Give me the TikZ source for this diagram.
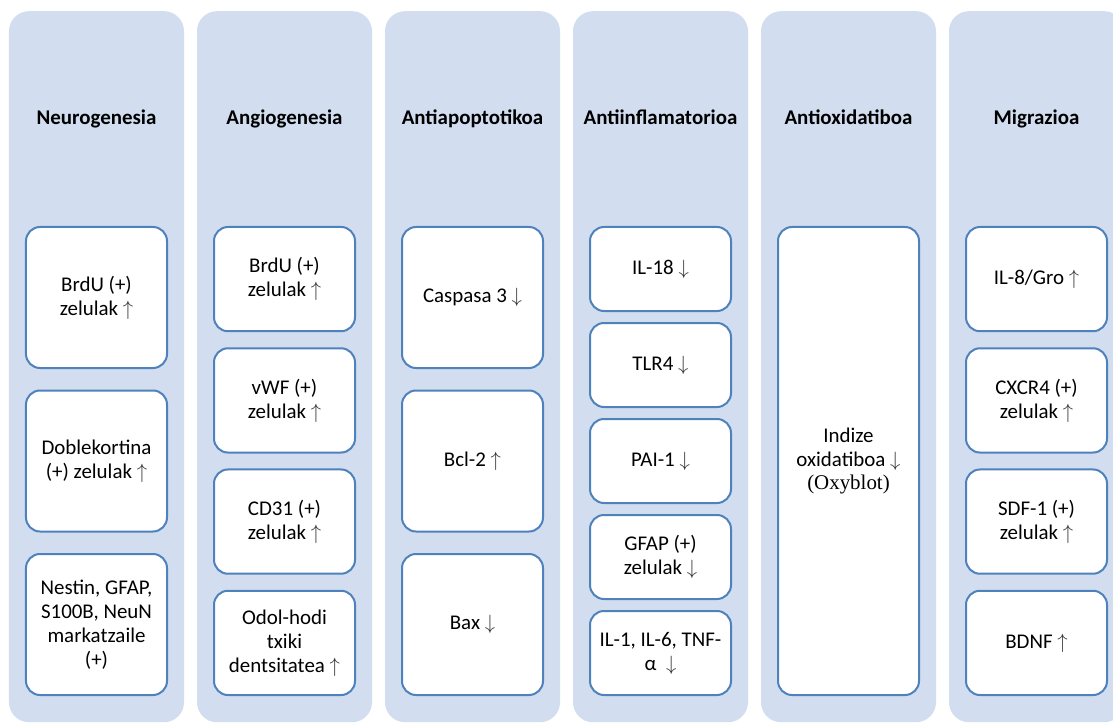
\documentclass[tikz,border=0pt]{standalone}
\usepackage{fontspec}
\setmainfont{Carlito}
\newfontfamily\oxyfont{Liberation Serif}
\definecolor{colfill}{RGB}{210,222,239}
\definecolor{boxline}{RGB}{79,129,189}
\newcommand{\upar}{\textcolor{black!80}{$\uparrow$}}
\newcommand{\dnar}{\textcolor{black!80}{$\downarrow$}}

\tikzset{
  column/.style={fill=colfill, rounded corners=20bp, minimum width=175bp, minimum height=711bp, inner sep=0pt, anchor=north},
  header/.style={anchor=base, font=\fontsize{21}{24}\selectfont\bfseries},
  item/.style={draw=boxline, line width=2bp, fill=white, rounded corners=14bp, minimum width=141bp, inner sep=2bp, align=center, font=\fontsize{21}{24}\selectfont}
}

\begin{document}
\begin{tikzpicture}[x=1bp,y=-1bp]
\clip (0,0) rectangle (1113,723);
\fill[white] (0,0) rectangle (1113,723);
% columns
\node[column] (neurocol) at (96.5,11) {};
\node[column] (angiocol) at (284.5,11) {};
\node[column] (apopcol) at (472.5,11) {};
\node[column] (inflcol) at (660.5,11) {};
\node[column] (oxidcol) at (848.5,11) {};
\node[column] (migrcol) at (1036.5,11) {};
% headers
\node[header] (neurohead) at (96.5,125) {Neurogenesia};
\node[header] (angiohead) at (284.5,125) {Angiogenesia};
\node[header] (apophead) at (472.5,125) {Antiapoptotikoa};
\node[header] (inflhead) at (660.5,125) {Antiinflamatorioa};
\node[header] (oxidhead) at (848.5,125) {Antioxidatiboa};
\node[header] (migrhead) at (1036.5,125) {Migrazioa};
% neurogenesia
\node[item, minimum height=141bp] (brdu) at (96.5,297.5) {BrdU (+)\\zelulak \upar};
\node[item, minimum height=141bp] (doble) at (96.5,461) {Doblekortina\\(+) zelulak \upar};
\node[item, minimum height=141bp] (nestin) at (96.5,624.5) {Nestin, GFAP,\\S100B, NeuN\\markatzaile\\(+)};
% angiogenesia
\node[item, minimum height=104.25bp] (brduang) at (284.5,279.1) {BrdU (+)\\zelulak \upar};
\node[item, minimum height=104.25bp] (vwf) at (284.5,400.4) {vWF (+)\\zelulak \upar};
\node[item, minimum height=104.25bp] (cd31) at (284.5,521.6) {CD31 (+)\\zelulak \upar};
\node[item, minimum height=104.25bp] (odol) at (284.5,642.9) {Odol-hodi\\txiki\\dentsitatea \upar};
% antiapoptotikoa
\node[item, minimum height=141bp] (caspasa) at (472.5,297.5) {Caspasa 3 \dnar};
\node[item, minimum height=141bp] (bcl) at (472.5,461) {Bcl-2 \upar};
\node[item, minimum height=141bp] (bax) at (472.5,624.5) {Bax \dnar};
% antiinflamatorioa
\node[item, minimum height=84bp] (il18) at (660.5,269) {IL-18 \dnar};
\node[item, minimum height=84bp] (tlr4) at (660.5,365) {TLR4 \dnar};
\node[item, minimum height=84bp] (pai) at (660.5,461) {PAI-1 \dnar};
\node[item, minimum height=84bp] (gfap) at (660.5,557) {GFAP (+)\\zelulak \dnar};
\node[item, minimum height=84bp] (il1) at (660.5,653) {IL-1, IL-6, TNF-\\α \ \dnar};
% antioxidatiboa
\node[item, minimum height=468bp] (indize) at (848.5,461) {Indize\\oxidatiboa \dnar\\{\oxyfont (Oxyblot)}};
% migrazioa
\node[item, minimum height=104.25bp] (il8) at (1036.5,279.1) {IL-8/Gro \upar};
\node[item, minimum height=104.25bp] (cxcr4) at (1036.5,400.4) {CXCR4 (+)\\zelulak \upar};
\node[item, minimum height=104.25bp] (sdf) at (1036.5,521.6) {SDF-1 (+)\\zelulak \upar};
\node[item, minimum height=104.25bp] (bdnf) at (1036.5,642.9) {BDNF \upar};
\end{tikzpicture}
\end{document}
